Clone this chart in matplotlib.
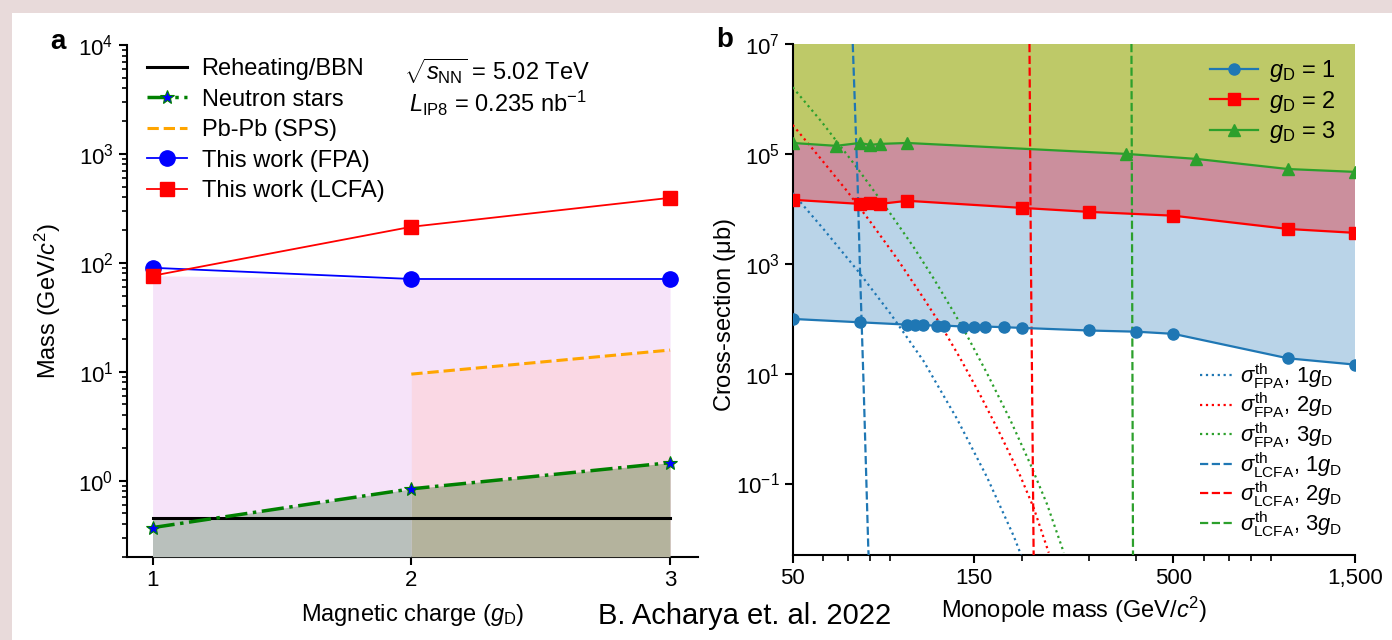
import numpy as np
import matplotlib
matplotlib.use('Agg')
import matplotlib.pyplot as plt
from matplotlib.patches import Rectangle
from matplotlib.ticker import FixedLocator, FixedFormatter, NullLocator, NullFormatter

plt.rcParams['font.family'] = ['Liberation Sans', 'DejaVu Sans']
plt.rcParams['mathtext.fontset'] = 'custom'
plt.rcParams['mathtext.rm'] = 'Liberation Sans'
plt.rcParams['mathtext.it'] = 'Liberation Sans:italic'
plt.rcParams['mathtext.bf'] = 'Liberation Sans:bold'
plt.rcParams['axes.linewidth'] = 1.5

# ---- panel a: mass limits vs magnetic charge
charge = [1, 2, 3]
bbn = [0.45, 0.45, 0.45]
neutron = [0.37, 0.84, 1.46]
pbpb_charge = [2, 3]
pbpb = [9.5, 15.8]
fpa_limit = [90, 71, 71]
lcfa_limit = [76, 214, 395]

# ---- panel b: cross-section limits vs monopole mass
m1 = [50, 75, 100, 105, 110, 120, 125, 140, 150, 160, 180, 200, 300, 400, 500, 1000, 1500]
xs1 = [99, 86, 78, 78, 76, 75, 75, 72, 72, 72, 70, 68, 61, 58, 53, 19, 14.6]
m2 = [50, 75, 80, 85, 100, 200, 300, 500, 1000, 1500]
xs2 = [14600, 12300, 12900, 12300, 14000, 10400, 8800, 7500, 4300, 3650]
m3 = [50, 65, 75, 80, 85, 100, 375, 575, 1000, 1500]
xs3 = [158000, 140000, 158000, 146000, 152000, 158000, 100000, 81000, 53000, 47000]

# theory curves
fpa1_m = [50, 60.2, 74.4, 90.2, 110.3, 135.1, 162, 190.4, 199]
fpa1_s = [19300, 4300, 720, 125, 17, 1.5, 0.13, 0.011, 0.005]
fpa2_m = [50, 59, 69.4, 79.9, 93.9, 110.3, 122, 137.8, 155.5, 175.6, 198, 214.8, 235.3]
fpa2_s = [336000, 84700, 21200, 5860, 1250, 237, 80, 18.9, 4.06, 0.78, 0.138, 0.036, 0.0055]
fpa3_m = [50, 59.6, 73.7, 90.2, 103.8, 117.2, 132.3, 143.5, 162, 186.6, 210.7, 232.9, 257.8]
fpa3_s = [1.63e6, 3.81e5, 5.66e4, 8260, 2030, 543, 133, 49.5, 10.1, 1.42, 0.222, 0.042, 0.0055]
lcfa1_m = [71.9, 74.0, 75.2, 76.7, 79.0, 79.3]
lcfa1_s = [1e7, 3.4e4, 590, 7.8, 0.0063, 0.004]
lcfa2_m = [209.4, 211, 214.8]
lcfa2_s = [1e7, 2700, 0.004]
lcfa3_m = [388, 391.7]
lcfa3_s = [1e7, 0.004]

W, H = 1392, 640
fig = plt.figure(figsize=(W / 100, H / 100), dpi=100, facecolor='#e8dada')
fig.patches.append(Rectangle((12 / W, 0), 1, 1 - 13 / H, transform=fig.transFigure,
                             facecolor='white', edgecolor='none', zorder=-10))

# ================= panel a =================
axa = fig.add_axes([126.7 / W, (H - 556.7) / H, 571.3 / W, 511.7 / H])
axa.set_facecolor('none')
ymin_a = 0.2
axa.fill_between(charge, ymin_a, np.minimum(fpa_limit, lcfa_limit), color='#f6e3f9', lw=0, zorder=1)
axa.fill_between(pbpb_charge, ymin_a, pbpb, color='#fad8e4', lw=0, zorder=2)
axa.fill_between(charge[:2], ymin_a, bbn[:2], color='#b9c0bc', lw=0, zorder=3)
axa.fill_between(charge[:2], ymin_a, neutron[:2], color='#b9c0bc', lw=0, zorder=3)
axa.fill_between(charge[1:], ymin_a, neutron[1:], color='#b4b39d', lw=0, zorder=3)

axa.plot(charge, bbn, color='black', lw=2.2, label='Reheating/BBN', zorder=5)
axa.plot(charge, neutron, color='green', lw=2.5, ls='-.', marker='*', ms=10,
         mfc='blue', mec='green', mew=0.8, label='Neutron stars', zorder=6)
axa.plot(pbpb_charge, pbpb, color='orange', lw=2.2, ls='--', label='Pb-Pb (SPS)', zorder=5)
axa.plot(charge, fpa_limit, color='blue', lw=1.3, marker='o', ms=11, label='This work (FPA)', zorder=6)
axa.plot(charge, lcfa_limit, color='red', lw=1.3, marker='s', ms=10, label='This work (LCFA)', zorder=6)

axa.set_yscale('log')
axa.set_ylim(ymin_a, 1e4)
axa.set_xlim(0.9, 3.108)
axa.set_xticks(charge)
axa.spines['top'].set_visible(False)
axa.spines['right'].set_visible(False)
axa.tick_params(axis='both', which='major', labelsize=16, length=6, width=1.5)
axa.tick_params(axis='y', which='minor', length=3.5, width=1.2)
axa.set_xlabel(r'Magnetic charge ($g_\mathrm{D}$)', fontsize=17, labelpad=8)
axa.set_ylabel(r'Mass (GeV/$c^2$)', fontsize=17, labelpad=11)
axa.legend(loc='upper left', bbox_to_anchor=(0.003, 1.011), frameon=False, fontsize=17,
           handlelength=1.7, handletextpad=0.6, labelspacing=0.36, borderaxespad=0.4)
axa.text(0.485, 0.948, r'$\sqrt{s_\mathrm{NN}}$ = 5.02 TeV', transform=axa.transAxes,
         fontsize=17, va='center', ha='left')
axa.text(0.495, 0.885, r'$L_\mathrm{IP8}$ = 0.235 nb$^{-1}$', transform=axa.transAxes,
         fontsize=17, va='center', ha='left')
fig.text(50 / W, 1 - 42 / H, 'a', fontsize=20, fontweight='bold', va='center')

# ================= panel b =================
axb = fig.add_axes([792.7 / W, (H - 555) / H, 562.3 / W, 511 / H])
axb.set_facecolor('none')
axb.set_xscale('log')
axb.set_yscale('log')
ytop = 1e7
axb.fill(list(m1) + m2[::-1], list(xs1) + xs2[::-1], color='#bad4e8', lw=0, zorder=1)
axb.fill(list(m2) + m3[::-1], list(xs2) + xs3[::-1], color='#cb8f9d', lw=0, zorder=1)
axb.fill(list(m3) + [m3[-1], m3[0]], list(xs3) + [ytop, ytop], color='#bec968', lw=0, zorder=1)

axb.plot(fpa1_m, fpa1_s, color='tab:blue', ls=':', lw=1.6, zorder=3, label=r'$\sigma^\mathrm{th}_\mathrm{FPA}$, 1$g_\mathrm{D}$')
axb.plot(fpa2_m, fpa2_s, color='red', ls=':', lw=1.6, zorder=3, label=r'$\sigma^\mathrm{th}_\mathrm{FPA}$, 2$g_\mathrm{D}$')
axb.plot(fpa3_m, fpa3_s, color='tab:green', ls=':', lw=1.6, zorder=3, label=r'$\sigma^\mathrm{th}_\mathrm{FPA}$, 3$g_\mathrm{D}$')
axb.plot(lcfa1_m, lcfa1_s, color='tab:blue', ls='--', lw=1.6, zorder=3, label=r'$\sigma^\mathrm{th}_\mathrm{LCFA}$, 1$g_\mathrm{D}$')
axb.plot(lcfa2_m, lcfa2_s, color='red', ls='--', lw=1.6, zorder=3, label=r'$\sigma^\mathrm{th}_\mathrm{LCFA}$, 2$g_\mathrm{D}$')
axb.plot(lcfa3_m, lcfa3_s, color='tab:green', ls='--', lw=1.6, zorder=3, label=r'$\sigma^\mathrm{th}_\mathrm{LCFA}$, 3$g_\mathrm{D}$')

h1, = axb.plot(m1, xs1, color='tab:blue', lw=1.6, marker='o', ms=8, zorder=4, label=r'$g_\mathrm{D}$ = 1')
h2, = axb.plot(m2, xs2, color='red', lw=1.6, marker='s', ms=8, zorder=4, label=r'$g_\mathrm{D}$ = 2')
h3, = axb.plot(m3, xs3, color='tab:green', lw=1.6, marker='^', ms=8, zorder=4, label=r'$g_\mathrm{D}$ = 3')

axb.set_xlim(50, 1500)
axb.set_ylim(5e-3, ytop)
axb.spines['top'].set_visible(False)
axb.spines['right'].set_visible(False)
mass_ticks = [50, 150, 500, 1500]
mass_labels = ['50', '150', '500', '1,500']
axb.xaxis.set_major_locator(FixedLocator(mass_ticks))
axb.xaxis.set_major_formatter(FixedFormatter(mass_labels))
axb.xaxis.set_minor_formatter(NullFormatter())
axb.yaxis.set_major_locator(FixedLocator([1e-1, 1e1, 1e3, 1e5, 1e7]))
axb.yaxis.set_minor_locator(NullLocator())
axb.tick_params(axis='both', which='major', labelsize=16, length=6, width=1.5)
axb.tick_params(axis='x', which='minor', length=4, width=1.2)
axb.set_xlabel(r'Monopole mass (GeV/$c^2$)', fontsize=17, labelpad=4)
axb.set_ylabel(r'Cross-section ($\mathrm{\mu}$b)', fontsize=17)
axb.yaxis.set_label_coords(-0.098, 0.47)

handles, labels = axb.get_legend_handles_labels()
leg1 = axb.legend([h1, h2, h3], [h.get_label() for h in (h1, h2, h3)], loc='upper right',
                  bbox_to_anchor=(1.0, 1.01), frameon=False, fontsize=17, handlelength=2.0,
                  handletextpad=0.5, labelspacing=0.2, borderaxespad=0.4)
axb.add_artist(leg1)
axb.legend(handles[:6], labels[:6], loc='lower right', bbox_to_anchor=(1.0, 0.006),
           frameon=False, fontsize=15.8, handlelength=1.6, handletextpad=0.2,
           labelspacing=0.0, borderaxespad=0.2)
fig.text(716 / W, 1 - 40 / H, 'b', fontsize=20, fontweight='bold', va='center')

fig.text(745 / W, 1 - 616 / H, 'B. Acharya et. al. 2022', fontsize=21, ha='center', va='center')

fig.savefig('out.png', dpi=100, facecolor=fig.get_facecolor())
